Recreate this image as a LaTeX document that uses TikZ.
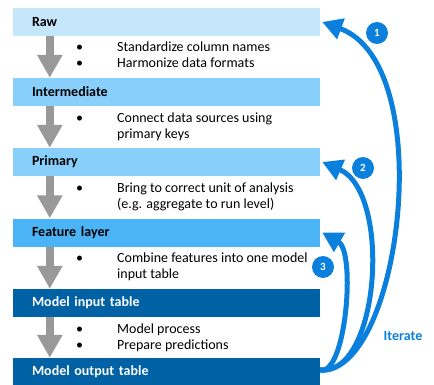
\documentclass[tikz,border=0pt]{standalone}
\usepackage{fontspec}
\setmainfont{Carlito}
\usetikzlibrary{positioning,
        shapes,
        arrows.meta}
\definecolor{rawc}{HTML}{C6E6FB}
\definecolor{midc}{HTML}{89CFFB}
\definecolor{featc}{HTML}{4BB4F7}
\definecolor{modc}{HTML}{0062A4}
\definecolor{iterc}{HTML}{0A80DC}
\definecolor{stepc}{HTML}{999999}

\begin{document}
\begin{tikzpicture}[x=1pt,y=-1pt,
        layer/.style={rectangle,minimum height=28pt,text width=269pt,inner xsep=19pt,inner ysep=0pt,
            align=left,font=\fontsize{14pt}{16pt}\selectfont\bfseries},
        notes/.style={anchor=west,inner sep=0pt,font=\fontsize{14pt}{16pt}\selectfont},
        down/.style={stepc,line width=8pt,-{Triangle[length=23pt,width=24pt]}},
        loop/.style={iterc,line width=5pt,-{Triangle[length=20pt,width=21pt]}},
        num/.style={circle,fill=iterc,text=white,inner sep=0pt,minimum size=22pt,
            font=\fontsize{11pt}{12pt}\selectfont\bfseries}]
            \useasboundingbox (0,0) rectangle (434,385);
            \node [layer,fill=rawc] (raw) at (166.5,22) {Raw};
            \node [layer,fill=midc] (inter) at (166.5,92) {Intermediate};
            \node [layer,fill=midc] (prim) at (166.5,162) {Primary};
            \node [layer,fill=featc] (feat) at (166.5,232.5) {Feature layer};
            \node [layer,fill=modc,text=white] (mit) at (166.5,303) {Model input table};
            \node [layer,fill=modc,text=white] (mot) at (166.5,372) {Model output table};

            \node [notes] (t1) at (76,56) {\begin{tabular}{@{}p{41pt}@{}l@{}}\textbullet & Standardize column names\\ \textbullet & Harmonize data formats\end{tabular}};
            \node [notes] (t2) at (76,127) {\begin{tabular}{@{}p{41pt}@{}l@{}}\textbullet & Connect data sources using\\ & primary keys\end{tabular}};
            \node [notes] (t3) at (76,197.5) {\begin{tabular}{@{}p{41pt}@{}l@{}}\textbullet & Bring to correct unit of analysis\\ & (e.g. aggregate to run level)\end{tabular}};
            \node [notes] (t4) at (76,267.5) {\begin{tabular}{@{}p{41pt}@{}l@{}}\textbullet & Combine features into one model\\ & input table\end{tabular}};
            \node [notes] (t5) at (76,338) {\begin{tabular}{@{}p{41pt}@{}l@{}}\textbullet & Model process\\ \textbullet & Prepare predictions\end{tabular}};

            \draw [down] ([xshift=37pt]raw.south west) -- ([xshift=37pt]inter.north west);
            \draw [down] ([xshift=37pt]inter.south west) -- ([xshift=37pt]prim.north west);
            \draw [down] ([xshift=37pt]prim.south west) -- ([xshift=37pt]feat.north west);
            \draw [down] ([xshift=37pt]feat.south west) -- ([xshift=37pt]mit.north west);
            \draw [down] ([xshift=37pt]mit.south west) -- ([xshift=37pt]mot.north west);

            \draw [loop] ([yshift=2pt]mot.east) .. controls (400,376) and (440,65) .. ([xshift=2pt]raw.east);
            \draw [loop] ([yshift=2pt]mot.east) .. controls (380,376) and (392,192) .. ([xshift=2pt]prim.east);
            \draw [loop] ([yshift=2pt]mot.east) .. controls (346,376) and (356,252) .. ([xshift=2pt]feat.east);

            \node [num] (n1) at (377,33) {1};
            \node [num] (n2) at (363,168) {2};
            \node [num] (n3) at (323,267) {3};
            \node [text=iterc,font=\fontsize{14pt}{16pt}\selectfont\bfseries] (iter) at (403,336) {Iterate};
        \end{tikzpicture}
\end{document}
